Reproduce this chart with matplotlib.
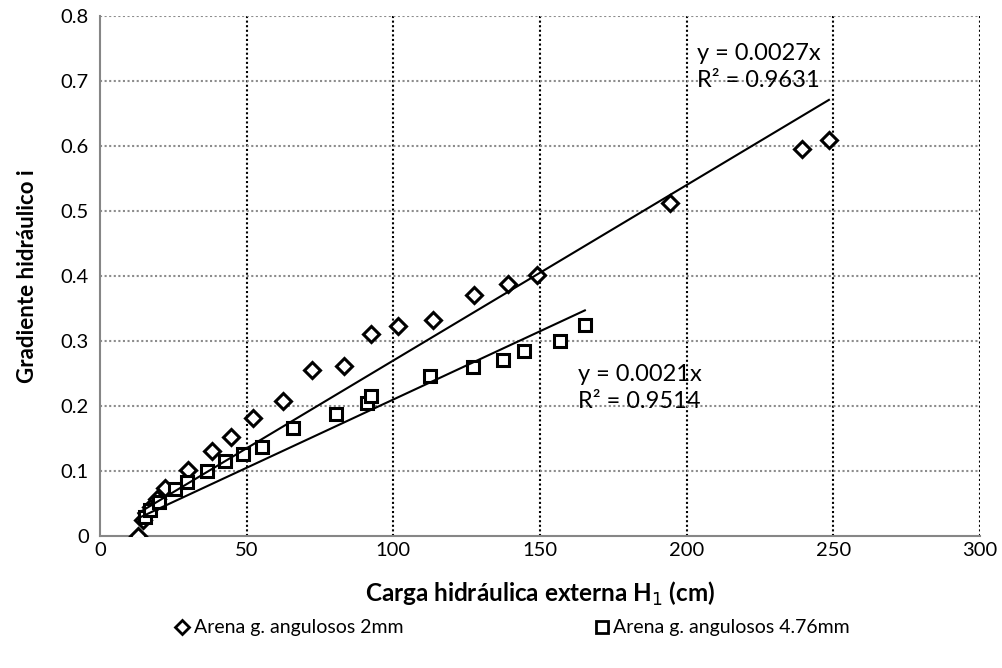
import numpy as np
import matplotlib.pyplot as plt
from matplotlib.lines import Line2D

plt.rcParams['font.family'] = ['Lato', 'DejaVu Sans']

# Arena g. angulosos 2mm
h_2mm = [13, 14.5, 17.5, 19.5, 22, 30, 38.3, 44.6, 52.3, 62.5, 72.4, 83.3, 92.4,
         101.5, 113.4, 127.5, 139.2, 149.1, 194.3, 239.2, 248.5]
i_2mm = [0.0, 0.025, 0.045, 0.057, 0.074, 0.102, 0.131, 0.152, 0.181, 0.207, 0.256,
         0.262, 0.311, 0.323, 0.332, 0.371, 0.387, 0.401, 0.512, 0.596, 0.610]

# Arena g. angulosos 4.76mm
h_476 = [15.5, 17, 20, 25.5, 29.5, 36.4, 42.6, 48.9, 55.3, 65.9, 80.5, 90.9, 92.3,
         112.5, 127, 137.5, 144.5, 156.8, 165.3]
i_476 = [0.030, 0.040, 0.052, 0.073, 0.083, 0.100, 0.116, 0.126, 0.137, 0.166, 0.187,
         0.204, 0.216, 0.246, 0.260, 0.271, 0.285, 0.300, 0.325]

slope_2mm, r2_2mm = 0.0027, 0.9631
slope_476, r2_476 = 0.0021, 0.9514

fig = plt.figure(figsize=(10.02, 6.68), dpi=100)
ax = fig.add_axes([100 / 1002, 1 - 536 / 668, 880 / 1002, 520 / 668])

# grid: dark dotted verticals, grey dotted horizontals
for xv in range(50, 301, 50):
    ax.axvline(xv, color='black', linestyle=(0, (1, 1.2)), linewidth=1.5, zorder=1)
for yv in np.arange(0.1, 0.81, 0.1):
    ax.axhline(yv, color='#8c8c8c', linestyle=(0, (1, 1.2)), linewidth=1.5, zorder=1)

ax.plot(h_2mm, i_2mm, linestyle='none', marker='D', markersize=8.5, markerfacecolor='white',
        markeredgecolor='black', markeredgewidth=2.2, zorder=3)
ax.plot(h_476, i_476, linestyle='none', marker='s', markersize=9, markerfacecolor='white',
        markeredgecolor='black', markeredgewidth=2.2, zorder=3)

# linear trendlines through origin, over the data range
x1 = np.array([min(h_2mm), max(h_2mm)])
ax.plot(x1, slope_2mm * x1, color='black', linewidth=1.5, zorder=4)
x2 = np.array([min(min(h_476), min(h_2mm)), max(h_476)])
ax.plot(x2, slope_476 * x2, color='black', linewidth=1.5, zorder=4)

ax.text(203.5, 0.7215, f'y = {slope_2mm}x\nR² = {r2_2mm}', fontsize=17,
        va='center', ha='left', linespacing=1.3, zorder=5)
ax.text(163, 0.2277, f'y = {slope_476}x\nR² = {r2_476}', fontsize=17,
        va='center', ha='left', linespacing=1.3, zorder=5)

ax.set_xlim(0, 300)
ax.set_ylim(0, 0.8)
ax.set_xticks(range(0, 301, 50))
ax.set_yticks(np.arange(0, 0.81, 0.1))
ax.set_yticklabels(['0', '0.1', '0.2', '0.3', '0.4', '0.5', '0.6', '0.7', '0.8'])
ax.tick_params(length=0, labelsize=14.5)
ax.tick_params(axis='y', pad=8)
ax.tick_params(axis='x', pad=4)
for s in ['top', 'right']:
    ax.spines[s].set_visible(False)
for s in ['left', 'bottom']:
    ax.spines[s].set_color('#868686')
    ax.spines[s].set_linewidth(1.5)

ax.set_xlabel('Carga hidráulica externa H$_1$ (cm)', fontsize=17.5, fontweight='bold', labelpad=15)
ax.set_ylabel('Gradiente hidráulico i', fontsize=16, fontweight='bold', labelpad=16)

handles = [
    Line2D([], [], linestyle='none', marker='D', markersize=7, markerfacecolor='white',
           markeredgecolor='black', markeredgewidth=2),
    Line2D([], [], linestyle='none', marker='s', markersize=8, markerfacecolor='white',
           markeredgecolor='black', markeredgewidth=2),
]
fig.legend(handles, ['Arena g. angulosos 2mm', 'Arena g. angulosos 4.76mm'],
           loc='center', bbox_to_anchor=(0.512, 0.06), ncol=2, frameon=False,
           fontsize=14, handlelength=0.6, handletextpad=0.3, columnspacing=9.9)

fig.savefig('out.png', dpi=100)
